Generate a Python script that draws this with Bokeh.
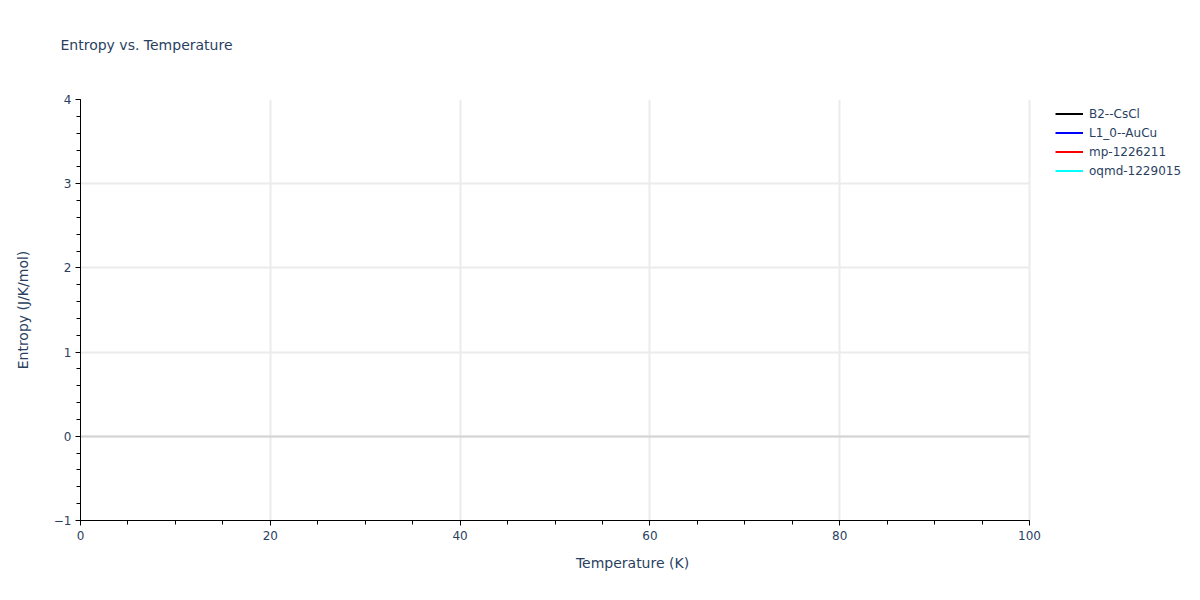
from bokeh.embed import file_html
from bokeh.models import FixedTicker, Grid, Legend, LegendItem, LinearAxis, Range1d, SingleIntervalTicker
from bokeh.plotting import figure
from bokeh.resources import INLINE

nan = float("nan")

# series shown in the legend; the reference draws no points for them
series_names = ["B2--CsCl", "L1_0--AuCu", "mp-1226211", "oqmd-1229015"]
series_colors = ["black", "blue", "red", "cyan"]
temperature = [[nan], [nan], [nan], [nan]]
entropy = [[nan], [nan], [nan], [nan]]

x_lo, x_hi = 0, 100
y_lo, y_hi = -1, 4

FONT = "DejaVu Sans"
TEXT = "#2a3f5f"

# plot area is 949 px wide for 0..100; the frame runs on to the right edge so the legend fits in it
W, H = 1184, 584
LEFT, TOP, BOTTOM = 80, 99, 64
AREA_W = 949
x_end = x_lo + (x_hi - x_lo) * (W - LEFT) / AREA_W

p = figure(width=W, height=H, output_backend="svg", toolbar_location=None,
           x_range=Range1d(x_lo, x_end), y_range=Range1d(y_lo, y_hi),
           min_border_left=LEFT, min_border_right=0,
           min_border_top=TOP, min_border_bottom=BOTTOM)
p.outline_line_color = None

# title
p.title.text = "Entropy vs. Temperature"
p.title.text_font = FONT
p.title.text_font_size = "14px"
p.title.text_font_style = "normal"
p.title.text_color = TEXT
p.title.align = "left"
p.title.offset = -20
p.title.standoff = 10

# axes
p.xaxis.ticker = SingleIntervalTicker(interval=20, num_minor_ticks=4)
p.yaxis.ticker = SingleIntervalTicker(interval=1, num_minor_ticks=5)
p.xaxis.bounds = (x_lo, x_hi)
p.yaxis.major_label_overrides = {-1: "\u22121"}
p.xaxis.axis_label = "Temperature (K)"
p.yaxis.axis_label = "Entropy (J/K/mol)"
for ax in (p.xaxis, p.yaxis):
    ax.axis_line_color = "black"
    ax.major_tick_line_color = "black"
    ax.minor_tick_line_color = "black"
    ax.major_tick_in = 0
    ax.major_tick_out = 5
    ax.minor_tick_in = 0
    ax.minor_tick_out = 4
    ax.major_label_text_font = FONT
    ax.major_label_text_font_size = "12px"
    ax.major_label_text_color = TEXT
    ax.axis_label_text_font = FONT
    ax.axis_label_text_font_size = "14px"
    ax.axis_label_text_font_style = "normal"
    ax.axis_label_text_color = TEXT
p.xaxis.major_label_standoff = 5
p.xaxis.axis_label_standoff = 12
p.yaxis.major_label_standoff = 4
p.yaxis.axis_label_standoff = 20

# blank strip above the plot area that pushes the title up (one hidden tick, empty label)
spacer = LinearAxis(ticker=FixedTicker(ticks=[x_lo]), axis_line_color=None,
                    major_tick_line_color=None, minor_tick_line_color=None,
                    major_tick_in=0, major_tick_out=42, minor_tick_out=0,
                    major_label_standoff=0, major_label_overrides={x_lo: ""})
p.add_layout(spacer, "above")

# grid, kept inside 0..100
p.xgrid.grid_line_color = "#ebebeb"
p.xgrid.grid_line_width = 2
p.ygrid.grid_line_color = "#ebebeb"
p.ygrid.grid_line_width = 2
p.ygrid.cross_bounds = (x_lo, x_hi)
zero_line = Grid(dimension=1, ticker=FixedTicker(ticks=[0]), cross_bounds=(x_lo, x_hi),
                 grid_line_color="#d4d4d4", grid_line_width=2)
p.add_layout(zero_line)

# lines (legend entries only)
items = []
for name, color, xs, ys in zip(series_names, series_colors, temperature, entropy):
    r = p.line(x=xs, y=ys, line_color=color, line_width=2)
    items.append(LegendItem(label=name, renderers=[r]))

legend = Legend(items=items, location=(975, 340), padding=0, margin=0, spacing=0,
                glyph_width=28, glyph_height=19, label_height=19, label_standoff=6,
                label_text_font=FONT, label_text_font_size="12px", label_text_color=TEXT,
                border_line_color=None, background_fill_alpha=0)
p.add_layout(legend, "center")

open("out.html", "w").write(file_html(p, INLINE))
